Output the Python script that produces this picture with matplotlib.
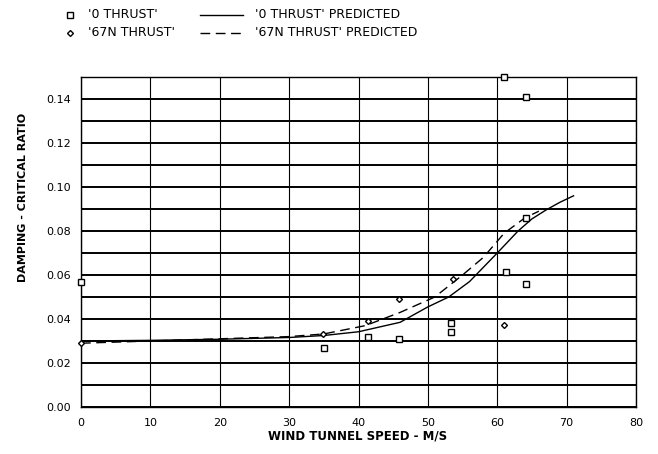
import matplotlib
matplotlib.use("Agg")
import matplotlib.pyplot as plt
from matplotlib.lines import Line2D

plt.rcParams['font.family'] = ['DejaVu Sans']

# '0 THRUST' measured points
thrust0_x = [0, 35, 41.3, 45.8, 53.3, 53.3, 61.2, 64.1, 61.0, 64.1, 64.1]
thrust0_y = [0.057, 0.027, 0.032, 0.031, 0.038, 0.034, 0.0615, 0.056, 0.150, 0.141, 0.086]

# '67N THRUST' measured points
thrust67_x = [0, 34.9, 41.4, 45.9, 53.6, 61.0]
thrust67_y = [0.029, 0.033, 0.039, 0.049, 0.058, 0.0375]

# '0 THRUST' PREDICTED
pred0_x = [0, 10, 20, 30, 35, 40, 46, 50, 53, 56, 60, 63, 65, 67, 69, 71]
pred0_y = [0.0300, 0.0303, 0.0308, 0.0316, 0.0325, 0.0342, 0.0385, 0.0455, 0.0500, 0.0570,
           0.0700, 0.0800, 0.0855, 0.0895, 0.0930, 0.0960]

# '67N THRUST' PREDICTED
pred67_x = [0, 10, 20, 30, 35, 41, 46, 51, 55, 58, 61, 64, 66]
pred67_y = [0.0290, 0.0300, 0.0310, 0.0320, 0.0332, 0.0370, 0.0430, 0.0500, 0.0600,
            0.0680, 0.0790, 0.0860, 0.0890]

x_ticks = [0, 10, 20, 30, 40, 50, 60, 70, 80]
y_ticks = [0.00, 0.02, 0.04, 0.06, 0.08, 0.10, 0.12, 0.14]
y_labels = ['0.00', '0.02', '0.04', '0.06', '0.08', '0.10', '0.12', '0.14']
labels = ["'0 THRUST'", "'67N THRUST'", "'0 THRUST' PREDICTED", "'67N THRUST' PREDICTED"]

W, H = 658, 454
fig = plt.figure(figsize=(W / 100, H / 100), dpi=100)
ax = fig.add_axes([81 / W, 1 - 407 / H, 555 / W, 330 / H])

ax.set_xlim(0, 80)
ax.set_ylim(0, 0.15)

# grid
for i in range(16):
    ax.axhline(i * 0.01, color='black', lw=1.4, zorder=1)
for xv in x_ticks:
    ax.axvline(xv, color='black', lw=0.8, zorder=1)

ax.plot(pred0_x, pred0_y, color='black', lw=1.0, zorder=3)
ax.plot(pred67_x, pred67_y, color='black', lw=1.0, ls=(0, (7, 4)), zorder=3)
ax.plot(thrust0_x, thrust0_y, ls='none', marker='s', ms=4.5, mfc='white', mec='black',
        mew=1.0, zorder=4, clip_on=False)
ax.plot(thrust67_x, thrust67_y, ls='none', marker='D', ms=3, mfc='white', mec='black',
        mew=1.0, zorder=4, clip_on=False)

ax.set_xticks(x_ticks)
ax.set_yticks(y_ticks)
ax.set_yticklabels(y_labels)
ax.tick_params(axis='both', length=0, labelsize=8)
ax.tick_params(axis='y', pad=7)
ax.tick_params(axis='x', pad=8)
for s in ax.spines.values():
    s.set_linewidth(1.0)

fig.text(358 / W, 1 - 436 / H, 'WIND TUNNEL SPEED - M/S', fontsize=8.5,
         fontweight='bold', ha='center', va='center')
fig.text(23 / W, 1 - 197 / H, 'DAMPING - CRITICAL RATIO', fontsize=8,
         fontweight='bold', ha='center', va='center', rotation=90)

# legend (manual layout)
def fx(px):
    return px / W

def fy(py):
    return 1 - py / H

fig.add_artist(Line2D([fx(70)], [fy(15)], ls='none', marker='s', ms=4, mfc='white',
                      mec='black', mew=1.0))
fig.add_artist(Line2D([fx(70)], [fy(33)], ls='none', marker='D', ms=3, mfc='white',
                      mec='black', mew=1.0))
fig.add_artist(Line2D([fx(200), fx(243)], [fy(15), fy(15)], color='black', lw=1.0))
fig.add_artist(Line2D([fx(200), fx(243)], [fy(33), fy(33)], color='black', lw=1.0,
                      ls=(0, (7, 4))))
fig.text(fx(88), fy(15), labels[0], fontsize=9, va='center', ha='left')
fig.text(fx(88), fy(33), labels[1], fontsize=9, va='center', ha='left')
fig.text(fx(255), fy(15), labels[2], fontsize=9, va='center', ha='left')
fig.text(fx(255), fy(33), labels[3], fontsize=9, va='center', ha='left')

fig.savefig('out.png', dpi=100)
